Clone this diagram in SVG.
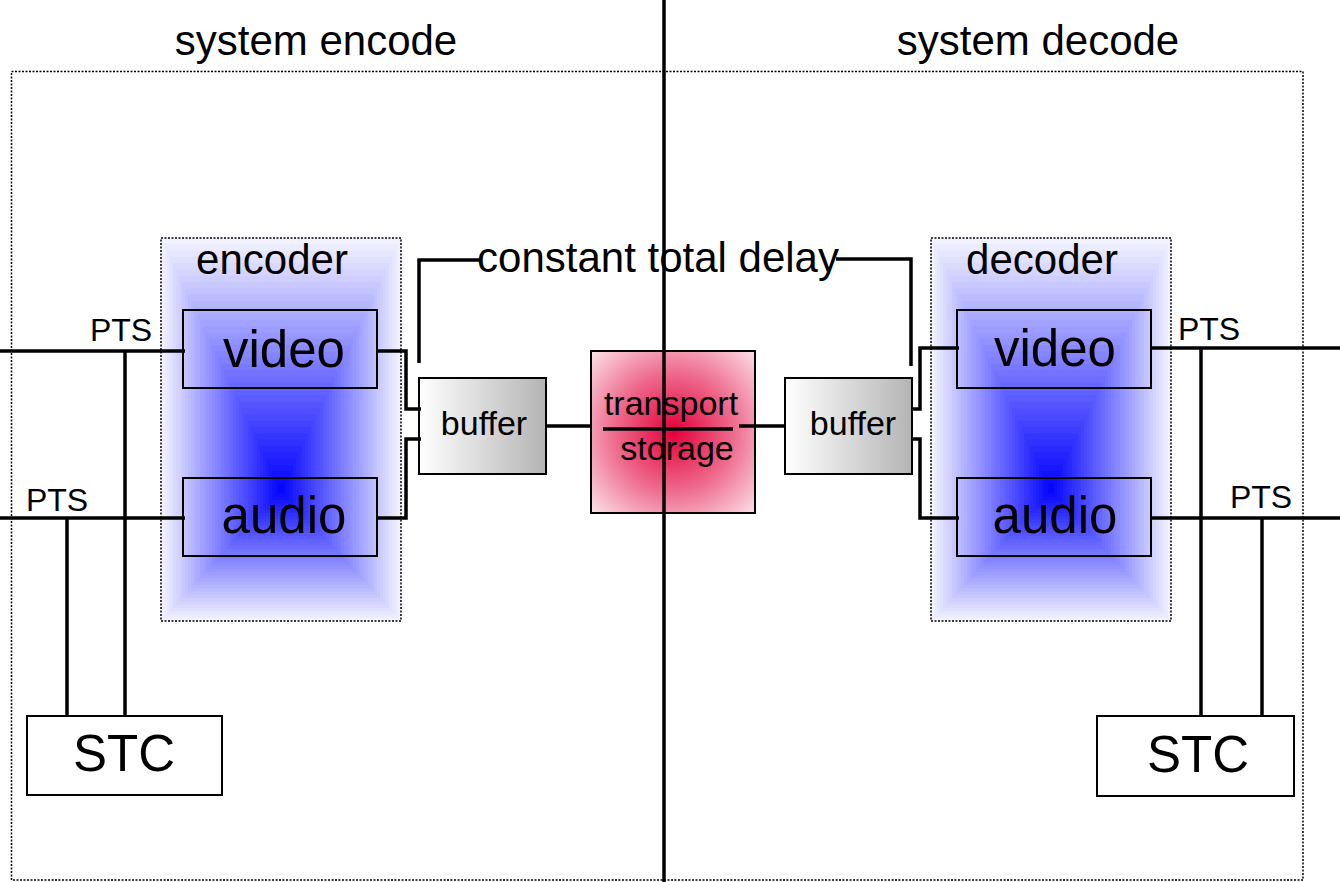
<svg xmlns="http://www.w3.org/2000/svg" xmlns:xlink="http://www.w3.org/1999/xlink" width="1340" height="882" viewBox="0 0 1340 882">
<style>
text{font-family:"Liberation Sans",Arial,sans-serif;fill:#000;text-anchor:middle}
.t42{font-size:42px}
.t51{font-size:51px}
.t34{font-size:34px}
.t32{font-size:32px}
.frame{fill:none;stroke:#000;stroke-width:1.5;stroke-dasharray:2 1.5}
.box{fill:none;stroke:#000;stroke-width:2}
.wire{fill:none;stroke:#000;stroke-width:3.5}
</style>
<defs>
<linearGradient id="gBuf" x1="0" y1="0" x2="1" y2="0">
<stop offset="0" stop-color="#ffffff"/>
<stop offset="1" stop-color="#b4b4b4"/>
</linearGradient>
<radialGradient id="gPink" cx="674" cy="432" r="118" gradientUnits="userSpaceOnUse">
<stop offset="0" stop-color="#e2003a"/>
<stop offset="0.5" stop-color="#ee6a8c"/>
<stop offset="1" stop-color="#fce8ee"/>
</radialGradient>
<g id="blueGrad">
<rect x="0" y="0" width="240" height="383" fill="#f2f2ff"/>
<rect x="3" y="6.3" width="234" height="373.4" fill="#ececff"/>
<rect x="6" y="12.6" width="228" height="363.9" fill="#e6e6ff"/>
<rect x="9" y="18.9" width="222" height="354.3" fill="#e0e0ff"/>
<rect x="12" y="25.2" width="216" height="344.7" fill="#dadaff"/>
<rect x="15" y="31.5" width="210" height="335.1" fill="#d4d4ff"/>
<rect x="18" y="37.8" width="204" height="325.6" fill="#ceceff"/>
<rect x="21" y="44.1" width="198" height="316" fill="#c8c8ff"/>
<rect x="24" y="50.4" width="192" height="306.4" fill="#c2c2ff"/>
<rect x="27" y="56.7" width="186" height="296.8" fill="#bbbbff"/>
<rect x="30" y="63" width="180" height="287.3" fill="#b6b6ff"/>
<rect x="33" y="69.3" width="174" height="277.7" fill="#afafff"/>
<rect x="36" y="75.6" width="168" height="268.1" fill="#a9a9ff"/>
<rect x="39" y="81.9" width="162" height="258.5" fill="#a3a3ff"/>
<rect x="42" y="88.2" width="156" height="248.95" fill="#9d9dff"/>
<rect x="45" y="94.5" width="150" height="239.4" fill="#9797ff"/>
<rect x="48" y="100.8" width="144" height="229.8" fill="#9191ff"/>
<rect x="51" y="107.1" width="138" height="220.2" fill="#8b8bff"/>
<rect x="54" y="113.4" width="132" height="210.65" fill="#8585ff"/>
<rect x="57" y="119.7" width="126" height="201.1" fill="#7f7fff"/>
<rect x="60" y="126" width="120" height="191.5" fill="#7979ff"/>
<rect x="63" y="132.3" width="114" height="181.9" fill="#7373ff"/>
<rect x="66" y="138.6" width="108" height="172.35" fill="#6d6dff"/>
<rect x="69" y="144.9" width="102" height="162.8" fill="#6767ff"/>
<rect x="72" y="151.2" width="96" height="153.2" fill="#6161ff"/>
<rect x="75" y="157.5" width="90" height="143.6" fill="#5b5bff"/>
<rect x="78" y="163.8" width="84" height="134.05" fill="#5555ff"/>
<rect x="81" y="170.1" width="78" height="124.5" fill="#4f4fff"/>
<rect x="84" y="176.4" width="72" height="114.9" fill="#4949ff"/>
<rect x="87" y="182.7" width="66" height="105.3" fill="#4343ff"/>
<rect x="90" y="189" width="60" height="95.75" fill="#3d3dff"/>
<rect x="93" y="195.3" width="54" height="86.2" fill="#3636ff"/>
<rect x="96" y="201.6" width="48" height="76.6" fill="#3030ff"/>
<rect x="99" y="207.9" width="42" height="67" fill="#2a2aff"/>
<rect x="102" y="214.2" width="36" height="57.45" fill="#2424ff"/>
<rect x="105" y="220.5" width="30" height="47.9" fill="#1e1eff"/>
<rect x="108" y="226.8" width="24" height="38.3" fill="#1818ff"/>
<rect x="111" y="233.1" width="18" height="28.7" fill="#1212ff"/>
<rect x="114" y="239.4" width="12" height="19.15" fill="#0c0cff"/>
<rect x="117" y="245.7" width="6" height="9.6" fill="#0606ff"/>
</g>
</defs>
<rect width="1340" height="882" fill="#ffffff"/>

<g id="outer-frame">
<rect class="frame" x="11.5" y="71.5" width="1291.5" height="808.5"/>
<text class="t42" x="316" y="55">system encode</text>
<text class="t42" x="1038" y="55">system decode</text>
</g>

<g id="encoder">
<use xlink:href="#blueGrad" x="161" y="238"/>
<rect class="frame" x="161" y="238" width="240" height="383"/>
<text class="t42" x="272" y="274">encoder</text>
</g>
<g id="encoder-video">
<rect class="box" x="183" y="310" width="194" height="78"/>
<text class="t51" x="284" y="367">video</text>
</g>
<g id="encoder-audio">
<rect class="box" x="183" y="478" width="194" height="78"/>
<text class="t51" x="284" y="533">audio</text>
</g>

<g id="decoder">
<use xlink:href="#blueGrad" x="931" y="238"/>
<rect class="frame" x="931" y="238" width="240" height="383"/>
<text class="t42" x="1042" y="274">decoder</text>
</g>
<g id="decoder-video">
<rect class="box" x="957" y="310" width="194" height="78"/>
<text class="t51" x="1055" y="366">video</text>
</g>
<g id="decoder-audio">
<rect class="box" x="957" y="478" width="194" height="78"/>
<text class="t51" x="1055" y="533">audio</text>
</g>

<g id="buffer-encode">
<rect x="419" y="378" width="127" height="96" fill="url(#gBuf)" stroke="#000" stroke-width="2"/>
<text class="t34" x="484" y="435">buffer</text>
</g>
<g id="buffer-decode">
<rect x="785" y="378" width="127" height="96" fill="url(#gBuf)" stroke="#000" stroke-width="2"/>
<text class="t34" x="853" y="435">buffer</text>
</g>

<g id="transport-storage">
<rect x="591" y="351" width="164" height="162" fill="url(#gPink)" stroke="#000" stroke-width="2"/>
<text class="t34" x="671" y="415">transport</text>
<text class="t34" x="677" y="460">storage</text>
<line class="wire" x1="603" y1="429" x2="733" y2="429"/>
</g>

<g id="stc-encode">
<rect class="box" x="27" y="716" width="195" height="79" fill="#fff"/>
<text class="t51" x="124" y="771">STC</text>
</g>
<g id="stc-decode">
<rect class="box" x="1097" y="716" width="197" height="80" fill="#fff"/>
<text class="t51" x="1198" y="772">STC</text>
</g>

<g id="connectors">
<line class="wire" x1="0" y1="351" x2="185" y2="351"/>
<line class="wire" x1="0" y1="518" x2="185" y2="518"/>
<line class="wire" x1="125" y1="351" x2="125" y2="716"/>
<line class="wire" x1="67" y1="518" x2="67" y2="716"/>
<text class="t32" x="121" y="341">PTS</text>
<text class="t32" x="57" y="511">PTS</text>
<polyline class="wire" points="377,351 406,351 406,409 421,409"/>
<polyline class="wire" points="377,518 406,518 406,439 421,439"/>
<line class="wire" x1="546" y1="426" x2="592" y2="426"/>
<line class="wire" x1="739" y1="426" x2="786" y2="426"/>
<polyline class="wire" points="911,409 920,409 920,348 959,348"/>
<polyline class="wire" points="911,439 920,439 920,518 959,518"/>
<line class="wire" x1="1151" y1="348" x2="1340" y2="348"/>
<line class="wire" x1="1151" y1="518" x2="1340" y2="518"/>
<line class="wire" x1="1201" y1="348" x2="1201" y2="716"/>
<line class="wire" x1="1262" y1="518" x2="1262" y2="716"/>
<text class="t32" x="1209" y="340">PTS</text>
<text class="t32" x="1261" y="508">PTS</text>
<polyline class="wire" points="419,363 419,260 479,260"/>
<polyline class="wire" points="836,259 911,259 911,366"/>
<text class="t42" x="658" y="272">constant total delay</text>
</g>

<g id="divider">
<line x1="664" y1="0" x2="664" y2="882" stroke="#000" stroke-width="3.5"/>
</g>
</svg>
